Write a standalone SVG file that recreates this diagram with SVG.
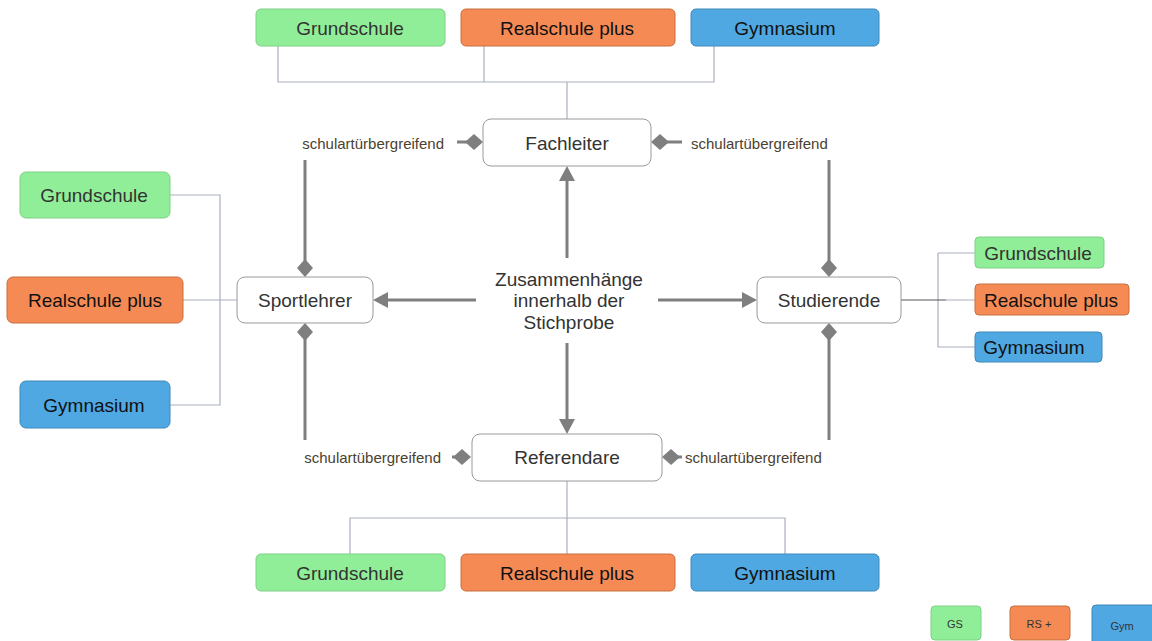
<svg xmlns="http://www.w3.org/2000/svg" width="1152" height="641" viewBox="0 0 1152 641">
<defs>
<style>
.gs{fill:#90ee98;stroke:#7fcf86;stroke-width:1}
.rs{fill:#f58a55;stroke:#c7703f;stroke-width:1}
.gy{fill:#4fa8e2;stroke:#3f88b8;stroke-width:1}
.nd{fill:#ffffff;stroke:#9a9a9a;stroke-width:1}
.t{font-family:"Liberation Sans",Arial,sans-serif;font-size:19px;fill:#333333;text-anchor:middle;dominant-baseline:central}
.tb{fill:#111111}
.lab{font-family:"Liberation Sans",Arial,sans-serif;font-size:15px;fill:#4a4230;dominant-baseline:central}
.leg{font-family:"Liberation Sans",Arial,sans-serif;font-size:11px;fill:#333333;text-anchor:middle;dominant-baseline:central}
.thin{fill:none;stroke:#a9b0bd;stroke-width:1.2}
.thick{fill:none;stroke:#7f7f7f;stroke-width:3}
</style>
</defs>
<rect width="1152" height="641" fill="#ffffff"/>
<g id="connectors">
<path class="thin" d="M278,46 V82 H714 V46 M484,46 V82 M567,82 V119"/>
<path class="thin" d="M567,481 V518 M350,554 V518 H785 V554 M567,518 V554"/>
<path class="thin" d="M170,195 H220 V405 H170 M183,300 H237"/>
<path class="thin" d="M938,253 H975 M938,253 V347 H975 M946,300 H975"/>
<path d="M901,300 H946" fill="none" stroke="#555555" stroke-width="1.2"/>
<path class="thick" d="M567,258 V180"/>
<path d="M567,166 L559,181 L575,181 z" fill="#7f7f7f"/>
<path class="thick" d="M567,343 V420"/>
<path d="M567,434 L559,419 L575,419 z" fill="#7f7f7f"/>
<path class="thick" d="M476,300 H388"/>
<path d="M373,300 L388,292 L388,308 z" fill="#7f7f7f"/>
<path class="thick" d="M658,300 H742"/>
<path d="M757,300 L742,292 L742,308 z" fill="#7f7f7f"/>
<path class="thick" d="M305,160 V262 M305,338 V440 M829,160 V262 M829,338 V440"/>
<path d="M305,259 L313,268 L305,277 L297,268 z M305,323 L313,332 L305,341 L297,332 z M829,259 L837,268 L829,277 L821,268 z M829,323 L837,332 L829,341 L821,332 z" fill="#7f7f7f"/>
<path class="thick" d="M457,142 H470 M664,142 H682 M452,457 H458 M676,457 H682"/>
<path d="M465,142 L474,134 L483,142 L474,150 z M651,142 L660,134 L669,142 L660,150 z M453,457 L462,449 L471,457 L462,465 z M662,457 L671,449 L680,457 L671,465 z" fill="#7f7f7f"/>
</g>
<g id="top-gs"><rect class="gs" x="256" y="9" width="189" height="37" rx="5"/><text class="t" x="350" y="28">Grundschule</text></g>
<g id="top-rs"><rect class="rs" x="461" y="9" width="214" height="37" rx="5"/><text class="t tb" x="567" y="28">Realschule plus</text></g>
<g id="top-gy"><rect class="gy" x="691" y="9" width="188" height="37" rx="5"/><text class="t tb" x="785" y="28">Gymnasium</text></g>
<g id="fachleiter"><rect class="nd" x="483" y="119" width="168" height="47" rx="8"/><text class="t" x="567" y="143">Fachleiter</text></g>
<g id="sportlehrer"><rect class="nd" x="237" y="277" width="136" height="46" rx="8"/><text class="t" x="305" y="300">Sportlehrer</text></g>
<g id="studierende"><rect class="nd" x="757" y="277" width="144" height="46" rx="8"/><text class="t" x="829" y="300">Studierende</text></g>
<g id="referendare"><rect class="nd" x="472" y="434" width="190" height="47" rx="8"/><text class="t" x="567" y="457">Referendare</text></g>
<g id="center"><text class="t" x="569" y="279">Zusammenhänge</text><text class="t" x="569" y="300">innerhalb der</text><text class="t" x="569" y="322">Stichprobe</text></g>
<g id="lab-tl"><text class="lab" x="444" y="143" text-anchor="end">schulartürbergreifend</text></g>
<g id="lab-tr"><text class="lab" x="691" y="143">schulartübergreifend</text></g>
<g id="lab-bl"><text class="lab" x="441" y="457" text-anchor="end">schulartübergreifend</text></g>
<g id="lab-br"><text class="lab" x="685" y="457">schulartübergreifend</text></g>
<g id="left-gs"><rect class="gs" x="20" y="172" width="150" height="46" rx="6"/><text class="t" x="94" y="195">Grundschule</text></g>
<g id="left-rs"><rect class="rs" x="7" y="277" width="176" height="46" rx="6"/><text class="t tb" x="95" y="300">Realschule plus</text></g>
<g id="left-gy"><rect class="gy" x="20" y="381" width="150" height="47" rx="6"/><text class="t tb" x="94" y="405">Gymnasium</text></g>
<g id="right-gs"><rect class="gs" x="975" y="237" width="129" height="31" rx="4"/><text class="t" x="1038" y="253">Grundschule</text></g>
<g id="right-rs"><rect class="rs" x="975" y="284" width="154" height="31" rx="4"/><text class="t tb" x="1051" y="300">Realschule plus</text></g>
<g id="right-gy"><rect class="gy" x="975" y="332" width="127" height="30" rx="4"/><text class="t tb" x="1034" y="347">Gymnasium</text></g>
<g id="bot-gs"><rect class="gs" x="256" y="554" width="189" height="37" rx="5"/><text class="t" x="350" y="573">Grundschule</text></g>
<g id="bot-rs"><rect class="rs" x="461" y="554" width="214" height="37" rx="5"/><text class="t tb" x="567" y="573">Realschule plus</text></g>
<g id="bot-gy"><rect class="gy" x="691" y="554" width="188" height="37" rx="5"/><text class="t tb" x="785" y="573">Gymnasium</text></g>
<g id="leg-gs"><rect class="gs" x="931" y="606" width="50" height="34" rx="4"/><text class="leg" x="955" y="624">GS</text></g>
<g id="leg-rs"><rect class="rs" x="1010" y="606" width="60" height="34" rx="4"/><text class="leg" x="1039" y="624">RS +</text></g>
<g id="leg-gy"><rect class="gy" x="1092" y="605" width="64" height="40" rx="4"/><text class="leg" x="1122" y="626">Gym</text></g>
</svg>
